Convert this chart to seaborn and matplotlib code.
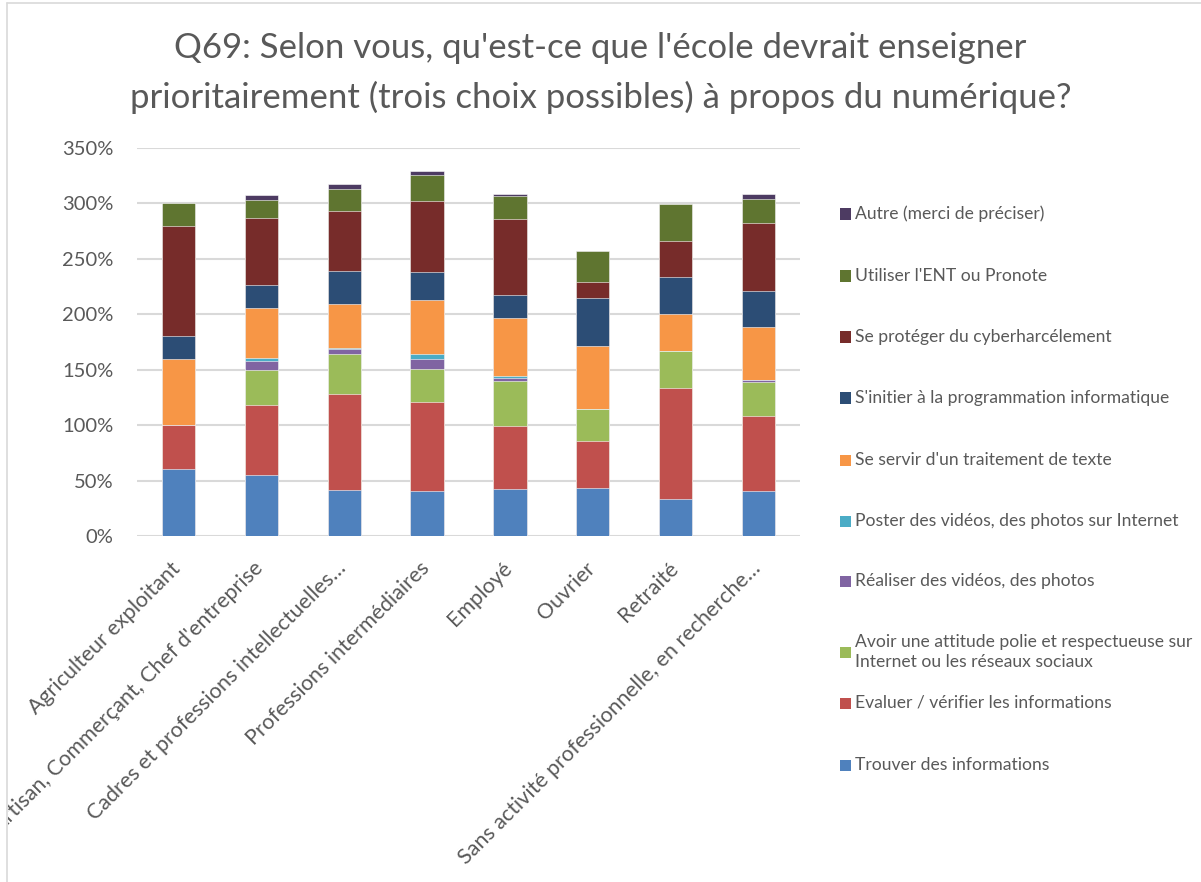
import numpy as np
import pandas as pd
import matplotlib
matplotlib.use("Agg")
import matplotlib.pyplot as plt
import seaborn as sns
from matplotlib.lines import Line2D
from matplotlib.patches import Rectangle
from matplotlib.transforms import Bbox, TransformedBbox, ScaledTranslation

# Catégories socio-professionnelles
categories = [
    "Agriculteur exploitant",
    "Artisan, Commerçant, Chef d'entreprise",
    "Cadres et professions intellectuelles…",
    "Professions intermédiaires",
    "Employé",
    "Ouvrier",
    "Retraité",
    "Sans activité professionnelle, en recherche…",
]

# Réponses (en % des répondants, empilées de bas en haut)
trouver = [60.0, 55.3, 41.7, 40.8, 42.6, 42.9, 33.3, 40.8]
evaluer = [40.0, 63.2, 86.5, 79.9, 56.8, 42.9, 100.0, 67.3]
attitude = [0.0, 31.6, 36.3, 30.3, 40.8, 28.6, 33.3, 30.6]
realiser = [0.0, 7.9, 3.9, 9.0, 2.4, 0.0, 0.0, 1.8]
poster = [0.0, 2.6, 1.5, 3.9, 1.8, 0.0, 0.0, 0.4]
texte = [60.0, 44.7, 39.3, 49.2, 52.0, 57.1, 33.3, 47.8]
programmation = [20.0, 21.1, 29.7, 24.9, 21.0, 42.9, 33.3, 32.7]
cyber = [100.0, 60.5, 54.1, 64.0, 68.2, 14.3, 33.3, 61.0]
ent = [20.0, 15.8, 19.8, 23.4, 21.3, 28.6, 33.3, 21.6]
autre = [0.0, 5.3, 4.8, 4.2, 1.8, 0.0, 0.0, 4.5]

series_names = [
    "Trouver des informations",
    "Evaluer / vérifier les informations",
    "Avoir une attitude polie et respectueuse sur\nInternet ou les réseaux sociaux",
    "Réaliser des vidéos, des photos",
    "Poster des vidéos, des photos sur Internet",
    "Se servir d'un traitement de texte",
    "S'initier à la programmation informatique",
    "Se protéger du cyberharcélement",
    "Utiliser l'ENT ou Pronote",
    "Autre (merci de préciser)",
]
series_values = [trouver, evaluer, attitude, realiser, poster, texte,
                 programmation, cyber, ent, autre]
colors = ["#4F81BD", "#C0504D", "#9BBB59", "#8064A2", "#4BACC6",
          "#F79646", "#2C4D75", "#772C2A", "#5F7530", "#4D3B62"]

TEXT = "#595959"
W, H = 1201, 882

sns.set_theme(style="white")
plt.rcParams["font.family"] = ["Lato", "DejaVu Sans"]

fig = plt.figure(figsize=(W / 100, H / 100), dpi=100)
ax = fig.add_axes([137 / W, 1 - 536 / H, (800 - 137) / W, (536 - 148) / H])

# Stacked bars: draw cumulative totals from the top series down
cum = np.zeros(len(categories))
cums = []
for vals in series_values:
    cum = cum + np.array(vals)
    cums.append(cum.copy())

for total, col in reversed(list(zip(cums, colors))):
    sns.barplot(x=categories, y=total, color=col, width=0.4, ax=ax,
                saturation=1, edgecolor="white", linewidth=0.4, zorder=3)

ax.set_ylim(0, 350)
ax.set_xlim(-0.5, len(categories) - 0.5)
ax.set_yticks(np.arange(0, 351, 50))
ax.set_yticklabels([f"{v}%" for v in range(0, 351, 50)], fontsize=14.5, color=TEXT)
ax.yaxis.grid(True, color="#D9D9D9", linewidth=1.5, zorder=0)
ax.set_axisbelow(True)
for s in ax.spines.values():
    s.set_visible(False)
ax.tick_params(axis="both", length=0)
ax.tick_params(axis="y", pad=17)
ax.set_xlabel("")
ax.set_ylabel("")

ax.set_xticks(range(len(categories)))
ax.set_xticklabels(categories, rotation=45, ha="right", rotation_mode="anchor",
                   fontsize=15.5, color=TEXT)
ax.tick_params(axis="x", pad=16)
clip = TransformedBbox(Bbox([[8 / W, 0], [1, 1]]), fig.transFigure)
shift = ScaledTranslation(-8 / 100, 0, fig.dpi_scale_trans)
for lbl in ax.get_xticklabels():
    lbl.set_transform(lbl.get_transform() + shift)
    lbl.set_clip_on(True)
    lbl.set_clip_box(clip)

fig.text(0.5, 1 - 48 / H,
         "Q69: Selon vous, qu'est-ce que l'école devrait enseigner",
         ha="center", va="center", fontsize=25, color=TEXT)
fig.text(0.5, 1 - 97 / H,
         "prioritairement (trois choix possibles) à propos du numérique?",
         ha="center", va="center", fontsize=25, color=TEXT)

# Legend: series listed top to bottom in reverse stacking order
legend_rows = [765, 703, 652, 581, 521, 460, 398, 337, 276, 214]
for name, col, yc in zip(series_names, colors, legend_rows):
    yf = 1 - yc / H
    fig.add_artist(Rectangle((840 / W, yf - 5.5 / H), 11 / W, 11 / H,
                             transform=fig.transFigure, facecolor=col,
                             edgecolor="none"))
    fig.text(855 / W, yf, name, ha="left", va="center", fontsize=12.6,
             color=TEXT, linespacing=1.25)

# Chart area border (top and left edges)
fig.add_artist(Line2D([7 / W, 1], [1 - 3 / H, 1 - 3 / H],
                      transform=fig.transFigure, color="#D9D9D9", linewidth=1.2))
fig.add_artist(Line2D([7 / W, 7 / W], [0, 1 - 3 / H],
                      transform=fig.transFigure, color="#D9D9D9", linewidth=1.2))

fig.savefig("out.png", dpi=100)
